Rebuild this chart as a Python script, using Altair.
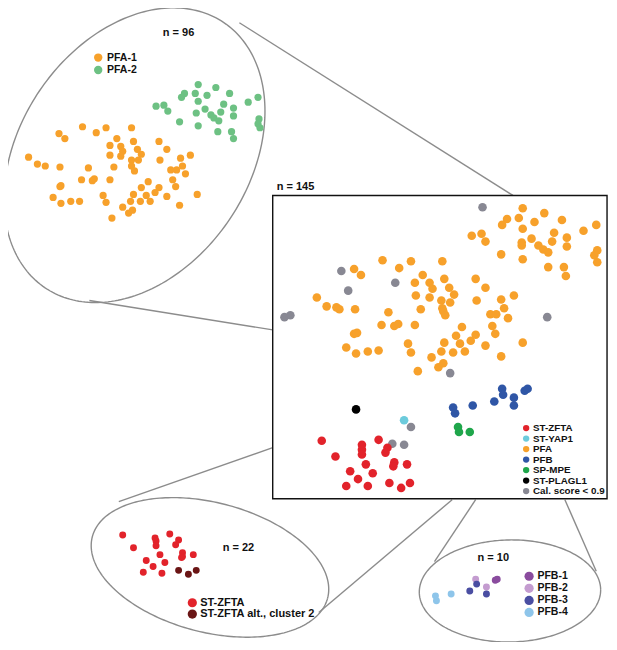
import altair as alt
import pandas as pd
import numpy as np

# ---------------- main panel (n = 145) ----------------
main_pfa_x = [527, 549, 511, 523, 506, 539, 567, 602, 527, 589, 475, 485, 489, 559, 572, 536, 526, 526,
              557, 543, 548, 553, 572, 603, 600, 603, 505, 527, 553, 569, 571,
              384, 413, 445, 355, 362, 401, 425, 447, 479, 417, 432, 435, 452, 489, 457, 418, 432, 444,
              453, 480, 505, 518, 317, 327, 337, 340, 356, 390, 423, 445, 446, 448, 508, 494, 500, 512,
              383, 396, 400, 417, 465, 496, 499, 355, 358, 459, 479, 474, 463, 447, 410, 489, 527, 347,
              357, 369, 380, 413, 444, 456, 468, 434, 505, 441, 446, 420]
main_pfa_y = [206, 211, 217, 216, 223, 220, 218, 223, 227, 229, 234, 232, 240, 231, 236, 237, 241, 244,
              240, 244, 248, 251, 245, 249, 254, 261, 253, 258, 266, 266, 275,
              259, 260, 260, 268, 274, 267, 274, 278, 278, 282, 282, 288, 287, 287, 294, 295, 297, 300,
              302, 300, 299, 295, 297, 306, 307, 309, 309, 312, 309, 308, 311, 315, 308, 314, 314, 318,
              325, 326, 324, 325, 327, 326, 334, 334, 333, 336, 335, 341, 344, 343, 344, 346, 343, 348,
              354, 352, 351, 353, 352, 353, 352, 358, 357, 368, 364, 372]
main_gray_x = [486, 342, 349, 397, 284, 290, 552, 453, 413, 394, 406]
main_gray_y = [205, 270, 290, 282, 317, 315, 317, 374, 429, 446, 447]
main_zfta_x = [322, 336, 363, 363, 363, 380, 389, 387, 367, 396, 395, 409, 351, 374, 359, 347, 369, 391, 403, 412]
main_zfta_y = [443, 459, 447, 452, 457, 442, 450, 455, 467, 465, 469, 467, 474, 476, 482, 489, 489, 486, 491, 486]
main_yap1_x = [406]
main_yap1_y = [422]
main_pfb_x = [456, 458, 476, 498, 506, 507, 518, 518, 529, 532]
main_pfb_y = [409, 415, 407, 403, 390, 396, 399, 407, 392, 390]
main_mpe_x = [461, 462, 473]
main_mpe_y = [429, 434, 434]
main_plagl1_x = [357]
main_plagl1_y = [411]

main_legend_labels = ["ST-ZFTA", "ST-YAP1", "PFA", "PFB", "SP-MPE", "ST-PLAGL1", "Cal. score < 0.9"]

# ---------------- top zoom (n = 96) ----------------
pfa2_x = [196, 214, 182, 179, 193, 205, 228, 257, 247, 196, 222, 232, 153, 161, 165, 203, 194, 209,
          212, 217, 219, 232, 258, 257, 259, 177, 196, 216, 230, 232]
pfa2_y = [80, 83, 89, 93, 89, 91, 89, 93, 98, 97, 100, 104, 102, 101, 107, 105, 109, 111,
          114, 117, 108, 112, 115, 120, 124, 118, 122, 128, 128, 135]
pfa1_x = [78, 92, 102, 128, 54, 60, 113, 130, 156, 106, 117, 119, 134, 164, 106, 117, 138, 128, 135,
          157, 178, 188, 23, 32, 40, 55, 84, 110, 128, 131, 180, 168, 174, 183, 77, 88, 90, 106, 145,
          170, 56, 55, 173, 156, 152, 138, 99, 130, 143, 147, 164, 195, 48, 56, 66, 75, 102, 127, 137,
          119, 125, 129, 108, 177]
pfa1_y = [123, 129, 124, 124, 130, 135, 135, 138, 138, 142, 143, 148, 146, 146, 152, 153, 151, 157, 157,
          157, 155, 152, 154, 161, 163, 164, 165, 164, 163, 168, 163, 167, 167, 171, 177, 178, 176, 177, 179,
          177, 183, 184, 184, 185, 190, 185, 193, 192, 193, 199, 194, 192, 195, 201, 199, 199, 200, 199, 199,
          205, 211, 208, 216, 203]

# ---------------- bottom-left zoom (n = 22) ----------------
zfta_x = [119, 130, 152, 153, 153, 167, 176, 173, 157, 180, 180, 179, 191, 143, 150, 162, 140, 159]
zfta_y = [539, 552, 542, 545, 550, 538, 544, 549, 559, 557, 561, 562, 559, 565, 571, 567, 577, 578]
zfta_alt_x = [176, 186, 194]
zfta_alt_y = [575, 579, 575]

# ---------------- bottom-right zoom (n = 10) ----------------
pfb1_x = [499, 501]
pfb1_y = [585, 584]
pfb2_x = [479, 490]
pfb2_y = [584, 592]
pfb3_x = [480, 473, 490]
pfb3_y = [589, 596, 599]
pfb4_x = [454, 438, 439]
pfb4_y = [599, 601, 606]

# ---------------- colours ----------------
group_names = ["ST-ZFTA", "ST-YAP1", "PFA", "PFB", "SP-MPE", "ST-PLAGL1", "Cal. score < 0.9",
               "PFA-1", "PFA-2", "ST-ZFTA alt., cluster 2", "PFB-1", "PFB-2", "PFB-3", "PFB-4"]
group_colors = ["#E2232B", "#6CCBDC", "#F7A12B", "#2F56A6", "#1FA64B", "#000000", "#888893",
                "#F7A12B", "#6DC183", "#6A1515", "#8A4C9E", "#C49CD0", "#4A4EA2", "#8EC5EA"]

# ---------------- layout (decoration geometry) ----------------
XD = [2, 615]
YD = [2, 648]
xs = alt.Scale(domain=XD, nice=False, zero=False)
ys = alt.Scale(domain=YD, nice=False, zero=False, reverse=True)
color = alt.Color("group:N", scale=alt.Scale(domain=group_names, range=group_colors), legend=None)
FONT = "Liberation Sans"


def ellipse(name, cx, cy, a, b, ang):
    t = np.linspace(0, 2 * np.pi, 241)
    al = np.deg2rad(ang)
    x = cx + a * np.cos(t) * np.cos(al) - b * np.sin(t) * np.sin(al)
    y = cy + a * np.cos(t) * np.sin(al) + b * np.sin(t) * np.cos(al)
    return pd.DataFrame({"x": x, "y": y, "i": np.arange(len(t)), "name": name})


ell = pd.concat([
    ellipse("top", 131, 152, 163, 117, -56),
    ellipse("bl", 208, 572, 124, 66, 14.6),
    ellipse("br", 514, 596, 92.5, 52, -1),
])

conn = pd.DataFrame({
    "x": [238, 85, 115, 319, 437, 602],
    "y": [17, 300, 505, 618, 566, 576],
    "x2": [517, 272, 272, 455, 479, 570],
    "y2": [193, 330, 450, 503, 503, 503],
})

box = pd.DataFrame({"x": [272], "x2": [613], "y": [193], "y2": [502]})

X = alt.X("x:Q", scale=xs, axis=None)
Y = alt.Y("y:Q", scale=ys, axis=None)

ell_layer = alt.Chart(ell).mark_line(color="#8C8C8C", strokeWidth=1.4).encode(
    x=X, y=Y, detail="name:N", order="i:Q")
conn_layer = alt.Chart(conn).mark_rule(color="#8C8C8C", strokeWidth=1.4).encode(
    x=X, y=Y, x2="x2:Q", y2="y2:Q")
box_layer = alt.Chart(box).mark_rect(fill="white", stroke="#111111", strokeWidth=1.4).encode(
    x=X, y=Y, x2="x2:Q", y2="y2:Q")


def pts(xl, yl, g):
    return pd.DataFrame({"x": xl, "y": yl, "group": g})


main_df = pd.concat([
    pts(main_pfa_x, main_pfa_y, "PFA"),
    pts(main_gray_x, main_gray_y, "Cal. score < 0.9"),
    pts(main_zfta_x, main_zfta_y, "ST-ZFTA"),
    pts(main_yap1_x, main_yap1_y, "ST-YAP1"),
    pts(main_pfb_x, main_pfb_y, "PFB"),
    pts(main_mpe_x, main_mpe_y, "SP-MPE"),
    pts(main_plagl1_x, main_plagl1_y, "ST-PLAGL1"),
])
top_df = pd.concat([pts(pfa1_x, pfa1_y, "PFA-1"), pts(pfa2_x, pfa2_y, "PFA-2")])
bl_df = pd.concat([pts(zfta_x, zfta_y, "ST-ZFTA"), pts(zfta_alt_x, zfta_alt_y, "ST-ZFTA alt., cluster 2")])
br_df = pd.concat([pts(pfb1_x, pfb1_y, "PFB-1"), pts(pfb2_x, pfb2_y, "PFB-2"),
                   pts(pfb3_x, pfb3_y, "PFB-3"), pts(pfb4_x, pfb4_y, "PFB-4")])


def point_layer(df, size):
    return alt.Chart(df).mark_circle(opacity=1, size=size).encode(x=X, y=Y, color=color)


def legend(labels, dx, y0, step, dsize, fsize, tx):
    df = pd.DataFrame({"group": labels,
                       "x": [dx] * len(labels),
                       "tx": [tx] * len(labels),
                       "y": [y0 + k * step for k in range(len(labels))]})
    dots = alt.Chart(df).mark_circle(opacity=1, size=dsize).encode(x=X, y=Y, color=color)
    txt = alt.Chart(df).mark_text(align="left", baseline="middle", font=FONT, fontWeight="bold",
                                  fontSize=fsize, color="#111111").encode(
        x=alt.X("tx:Q", scale=xs, axis=None), y=Y, text="group:N")
    return dots + txt


main_leg = legend(main_legend_labels, 530.5, 430, 10.7, 40, 9.8, 537.5)
top_leg = legend(["PFA-1", "PFA-2"], 94, 52.5, 12.7, 70, 10.5, 103)
bl_leg = legend(["ST-ZFTA", "ST-ZFTA alt., cluster 2"], 190, 608, 11.5, 85, 11, 198)
br_leg = legend(["PFB-1", "PFB-2", "PFB-3", "PFB-4"], 533.5, 581, 12.3, 85, 10.5, 542)

n_labels = ["n = 145", "n = 96", "n = 22", "n = 10"]
n_pos_x = [276, 176, 237, 497]
n_pos_y = [184, 27, 552, 562]
n_anchor = ["left", "center", "center", "center"]
ntext = pd.DataFrame({"label": n_labels, "x": n_pos_x, "y": n_pos_y, "anchor": n_anchor})
n_left = alt.Chart(ntext[ntext["anchor"] == "left"]).mark_text(
    align="left", baseline="middle", font=FONT, fontWeight="bold", fontSize=11, color="#111111"
).encode(x=X, y=Y, text="label:N")
n_center = alt.Chart(ntext[ntext["anchor"] == "center"]).mark_text(
    align="center", baseline="middle", font=FONT, fontWeight="bold", fontSize=11, color="#111111"
).encode(x=X, y=Y, text="label:N")

chart = alt.layer(
    ell_layer, conn_layer, box_layer,
    point_layer(main_df, 74), point_layer(top_df, 52), point_layer(bl_df, 48), point_layer(br_df, 48),
    main_leg, top_leg, bl_leg, br_leg, n_left, n_center,
).properties(
    width=601, height=634, padding=0,
    autosize=alt.AutoSizeParams(type="none"),
    background="white",
).configure_view(stroke=None)

chart.save("out.html", embed_options={"renderer": "svg", "actions": False})
